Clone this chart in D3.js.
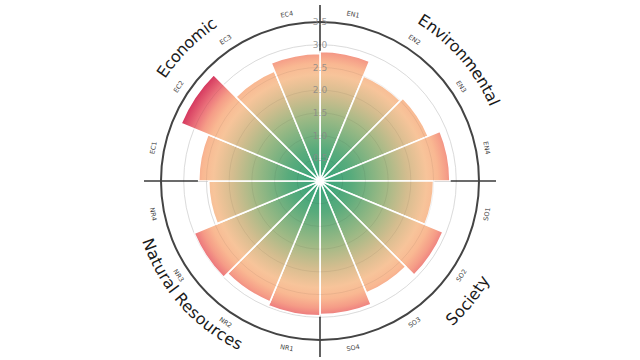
<!DOCTYPE html>
<html><head><meta charset="utf-8">
<script src="https://cdn.jsdelivr.net/npm/d3@7"></script>
<style>body{margin:0;background:#fff}svg{display:block}</style>
</head><body><svg id="c" width="640" height="360"></svg>
<script>
const categories = ["EN1","EN2","EN3","EN4","SO1","SO2","SO3","SO4","NR1","NR2","NR3","NR4","EC1","EC2","EC3","EC4"];
const values = [2.85,2.50,2.58,2.86,2.50,2.93,2.67,2.94,2.97,2.88,3.00,2.45,2.67,3.31,2.62,2.81];
const groups = ["Environmental","Society","Natural Resources","Economic"];
const groupAngles = [49,129,228.5,315];
const radialTicks = [0.5,1.0,1.5,2.0,2.5,3.0,3.5];

const cx = 320, cy = 181;
const svg = d3.select("#c");
const g = svg.append("g").attr("transform", `translate(${cx},${cy})`);
const r = d3.scaleLinear().domain([0, 3.5]).range([0, 159]);
const x = d3.scaleBand().domain(categories).range([0, 2*Math.PI]).padding(0);
const deg = a => a*180/Math.PI;

const defs = svg.append("defs");
const grad = defs.append("radialGradient").attr("id","rg")
  .attr("gradientUnits","userSpaceOnUse").attr("cx",0).attr("cy",0).attr("r",r(3.5));
[[0,"#32a27a"],[0.2,"#58ab7c"],[0.4,"#9cb985"],[0.55,"#d4bd8f"],[0.67,"#f7c49a"],
 [0.74,"#f9b892"],[0.8,"#f59c87"],[0.86,"#eb727b"],[0.94,"#d63a60"],[1,"#c82854"]]
 .forEach(([o,c]) => grad.append("stop").attr("offset",o).attr("stop-color",c));

// light grid circles (background)
g.selectAll("circle.grid").data(radialTicks.slice(0,-1)).join("circle")
  .attr("r", d => r(d)).attr("fill","none").attr("stroke","#e9e9e9").attr("stroke-width",1);

// quadrant lines
[0, 90, 180, 270].forEach(a => {
  const t = a*Math.PI/180;
  g.append("line").attr("x1",0).attr("y1",0)
    .attr("x2", 176*Math.sin(t)).attr("y2", -176*Math.cos(t))
    .attr("stroke","#3a3a3a").attr("stroke-width",1.6);
});

// bars
const arc = d3.arc().innerRadius(0)
  .outerRadius(d => r(d.v))
  .startAngle(d => x(d.c)).endAngle(d => x(d.c) + x.bandwidth());
const data = categories.map((c,i) => ({c, v: values[i]}));
g.selectAll("path.bar").data(data).join("path")
  .attr("d", arc).attr("fill","url(#rg)").attr("stroke","#fff").attr("stroke-width",1.6);

// grid circles over bars (faint)
g.selectAll("circle.grid2").data(radialTicks.slice(0,-1)).join("circle")
  .attr("r", d => r(d)).attr("fill","none").attr("stroke","#000").attr("stroke-opacity",0.06).attr("stroke-width",1);

// outer circle
g.append("circle").attr("r", r(3.5)).attr("fill","none").attr("stroke","#444").attr("stroke-width",2);

// radial tick labels
g.selectAll("text.tick").data(radialTicks).join("text")
  .attr("x", 0).attr("y", d => -r(d)).attr("dy","0.35em")
  .attr("text-anchor","middle").attr("font-family","DejaVu Sans").attr("font-size",9)
  .attr("fill","#888").attr("fill-opacity",0.85)
  .text(d => d.toFixed(1));

// center dot
g.append("circle").attr("r",3).attr("fill","#fff");

// bar labels
g.selectAll("text.lab").data(categories).join("text")
  .each(function(c){
    const a = deg(x(c) + x.bandwidth()/2);
    const t = a*Math.PI/180, R = 170;
    let rot = a;
    if (a > 90 && a < 270) rot = a - 180; else if (a >= 270) rot = a - 360;
    d3.select(this)
      .attr("transform", `translate(${R*Math.sin(t)},${-R*Math.cos(t)}) rotate(${rot})`)
      .attr("text-anchor","middle").attr("dy","0.35em")
      .attr("font-family","DejaVu Sans").attr("font-size",6.5).attr("fill","#444")
      .text(c);
  });

// group labels on arcs
const groupRadii = [191, 191, 182, 191];
groups.forEach((name, i) => {
  const RG = groupRadii[i];
  const a = groupAngles[i]*Math.PI/180;
  const span = 1.2;
  const bottom = groupAngles[i] > 90 && groupAngles[i] < 270;
  const p = a0 => [RG*Math.sin(a0), -RG*Math.cos(a0)];
  let d;
  if (!bottom) {
    const s = p(a - span), e = p(a + span);
    d = `M${s[0]},${s[1]} A${RG},${RG} 0 0 1 ${e[0]},${e[1]}`;
  } else {
    const s = p(a + span), e = p(a - span);
    d = `M${s[0]},${s[1]} A${RG},${RG} 0 0 0 ${e[0]},${e[1]}`;
  }
  defs.append("path").attr("id","gp"+i).attr("d", d);
  g.append("text").attr("font-family","DejaVu Sans").attr("font-size",16).attr("fill","#1a1a1a")
    .attr("dy","0.35em")
    .append("textPath").attr("href","#gp"+i).attr("startOffset","50%").attr("text-anchor","middle")
    .text(name);
});
</script></body></html>
